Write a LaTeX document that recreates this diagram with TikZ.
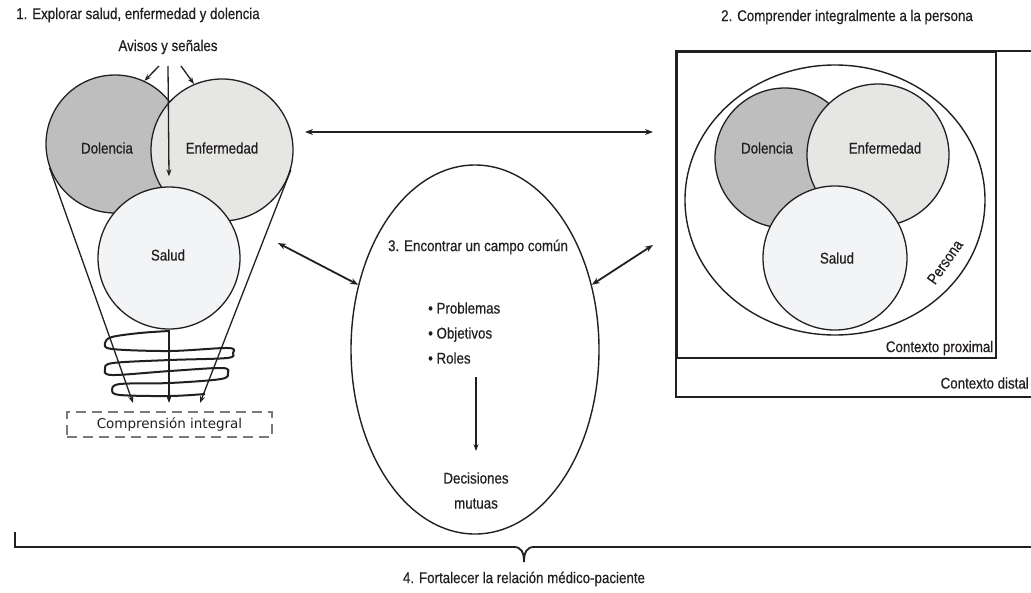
\documentclass[tikz,border=0pt]{standalone}
\usepackage{fontspec}
\setmainfont{Liberation Sans}[FakeStretch=0.86,FakeBold=0.5]
\newfontfamily\verdfont{DejaVu Sans}
\usetikzlibrary{arrows.meta,calc,positioning,shapes.geometric}
\definecolor{DocInk}{HTML}{231F20}
\definecolor{DolGray}{HTML}{BEBEBE}
\definecolor{EnfGray}{HTML}{E6E6E4}
\definecolor{SalGray}{HTML}{F3F4F6}
\definecolor{DashGray}{HTML}{7A7A7A}

\begin{document}
\begin{tikzpicture}[x=1pt,y=-1pt,
  lbl/.style={text=DocInk,font=\fontsize{15.5}{17}\selectfont,inner sep=1pt},
  venn/.style={circle,draw=DocInk,line width=1.3pt,inner sep=0pt,minimum size=#1},
  oval/.style={ellipse,draw=DocInk,line width=1.4pt,inner sep=0pt},
  dbl/.style={{Stealth[length=8pt,width=6pt]}-{Stealth[length=8pt,width=6pt]},line width=1.8pt,draw=DocInk},
  tip/.style={-{Stealth[length=7pt,width=5pt]},line width=1.3pt,draw=DocInk}]
  \useasboundingbox (0,0) rectangle (1031,592);

  % 1. explorar
  \node[lbl] (t1) at (138,15) {1. Explorar salud, enfermedad y dolencia};
  \node[lbl] (avisos) at (168,47) {Avisos y señales};
  \node[venn=138pt,fill=DolGray] (dolA) at (115,144) {};
  \node[venn=142pt,fill=EnfGray] (enfA) at (222,150) {};
  \node[venn=142pt,fill=SalGray] (salA) at (169,258) {};
  \node[lbl] at ([shift={(-8,4)}]dolA.center) {Dolencia};
  \node[lbl] at ([shift={(0,-2)}]enfA.center) {Enfermedad};
  \node[lbl] at ([shift={(-1,-3)}]salA.center) {Salud};
  \draw[tip] ([shift={(-9,19)}]avisos.center) -- (dolA.65);
  \draw[tip] ([shift={(13,19)}]avisos.center) -- (enfA.113);
  \draw[tip] ([shift={(0,19)}]avisos.center) -- ([yshift=10pt]salA.north);

  \node[draw=DashGray,dash pattern=on 10pt off 6pt,line width=1.8pt,minimum width=205pt,
        minimum height=25pt,text=DocInk,font=\verdfont\fontsize{13.5}{15}\selectfont]
        (ci) at (169.5,424.5) {Comprensión integral};
  \coordinate (tipL) at (133,403);
  \coordinate (tipM) at (169,403);
  \coordinate (tipR) at (200,403);
  \draw[line width=2pt,DocInk,line join=round] plot[smooth,tension=0.55] coordinates {
    (169,331) (140,333) (112,337) (105,343) (112,349) (170,351) (228,348) (233,353)
    (227,358) (170,360) (113,363) (105,369) (112,375) (170,371) (222,368) (228,373)
    (221,379) (170,383) (120,384) (112,390) (120,395) (170,396) (205,394)};
  \draw[tip] (dolA.200) -- (tipL);
  \draw[tip] (salA.south) -- (tipM);
  \draw[tip] (enfA.344) -- (tipR);

  % 3. campo comun
  \node[oval,minimum width=248pt,minimum height=369pt] (common) at (475,349.5) {};
  \node[lbl] (enc) at (478,247) {3. Encontrar un campo común};
  \node[lbl,anchor=west,align=left,font=\fontsize{15.5}{25}\selectfont] (items) at (427,333)
    {• Problemas\\• Objetivos\\• Roles};
  \node[lbl,align=center,font=\fontsize{15.5}{25}\selectfont] (dec) at (476,490.5) {Decisiones\\mutuas};
  \draw[tip,shorten <=12pt,shorten >=20pt] (items.south -| dec.north) -- (dec.north);

  % flechas
  \coordinate (hL) at (305,132);
  \coordinate (hR) at (653,132);
  \coordinate (mL) at (278,243);
  \coordinate (mR) at (653,245);
  \draw[dbl] (hL) -- (hR);
  \draw[dbl] (mL) -- (common.151);
  \draw[dbl] (common.29) -- (mR);

  % 2. comprender
  \node[lbl] (t2) at (847,17) {2. Comprender integralmente a la persona};
  \draw[line width=1.5pt,DocInk] (1031,51) -| (676,397) -- (1031,397);
  \node[draw=DocInk,line width=1.5pt,anchor=north west,minimum width=319pt,
        minimum height=306pt,inner sep=0pt] (prox) at (676,51) {};
  \node[oval,minimum width=300pt,minimum height=270pt] (pers) at (835,200) {};
  \node[venn=140pt,fill=DolGray] (dolB) at (785,158) {};
  \node[venn=142pt,fill=EnfGray] (enfB) at (878,155) {};
  \node[venn=144pt,fill=SalGray] (salB) at (835,258) {};
  \node[lbl] at ([shift={(-18,-10)}]dolB.center) {Dolencia};
  \node[lbl] at ([shift={(7,-7)}]enfB.center) {Enfermedad};
  \node[lbl] at ([shift={(2,0)}]salB.center) {Salud};
  \node[lbl,rotate=55] (persl) at (945,262) {Persona};
  \node[lbl,anchor=south east,inner sep=3pt] (proxl) at (prox.south east) {Contexto proximal};
  \node[lbl,anchor=east] (distl) at (1030,383) {Contexto distal};

  % 4. relacion
  \draw[line width=1.8pt,DocInk] (15,532) -- (15,547) -- (514,547)
    .. controls (521,547) and (524,552) .. (524,562)
    .. controls (524,552) and (527,547) .. (534,547) -- (1031,547);
  \node[lbl] (t4) at (524,579) {4. Fortalecer la relación médico-paciente};
\end{tikzpicture}
\end{document}
